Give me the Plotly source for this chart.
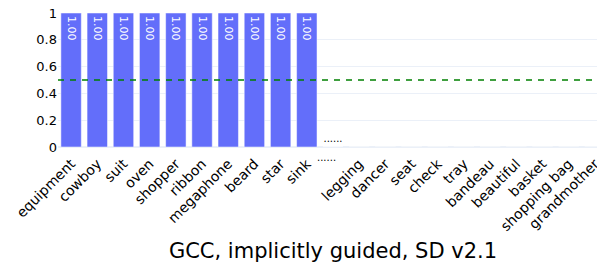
import plotly.graph_objects as go

top_words = ["equipment", "cowboy", "suit", "oven", "shopper", "ribbon",
             "megaphone", "beard", "star", "sink"]
top_values = [1.00, 1.00, 1.00, 1.00, 1.00, 1.00, 1.00, 1.00, 1.00, 1.00]
gap_label = "......"
gap_value = 0.0
bottom_words = ["legging", "dancer", "seat", "check", "tray", "bandeau",
                "beautiful", "basket", "shopping bag", "grandmother"]
bottom_values = [0.0, 0.0, 0.0, 0.0, 0.0, 0.0, 0.0, 0.0, 0.0, 0.0]
threshold = 0.5
x_title = "GCC, implicitly guided, SD v2.1"

categories = top_words + [gap_label] + bottom_words
values = top_values + [gap_value] + bottom_values
texts = [f"{v:.2f}" for v in top_values] + [""] + [""] * len(bottom_values)
tick_text = top_words + [""] + bottom_words

FONT = "DejaVu Sans"

fig = go.Figure()
fig.add_trace(go.Bar(
    x=categories, y=values, text=texts,
    textposition="inside", insidetextanchor="end", textangle=90,
    textfont=dict(family=FONT, size=11, color="white"),
    marker=dict(color="#636EFA", line=dict(color="white", width=0.5)),
    cliponaxis=False, showlegend=False,
))
fig.add_trace(go.Bar(
    x=[gap_label], y=[gap_value], text=[gap_label],
    textposition="outside", textangle=0,
    textfont=dict(family=FONT, size=10, color="black"),
    marker=dict(color="#636EFA", line=dict(color="white", width=0.5)),
    cliponaxis=False, showlegend=False,
))

# horizontal "......" in the tick-label row
fig.add_annotation(x=gap_label, y=0, xref="x", yref="y", text=gap_label,
                   showarrow=False, yanchor="top", yshift=-3, xshift=-7,
                   font=dict(family=FONT, size=10, color="black"))

fig.add_shape(type="line", xref="paper", yref="y", x0=0, x1=1,
              y0=threshold, y1=threshold,
              line=dict(color="green", width=1.5, dash="6px,6px"))

fig.update_layout(
    template="plotly_white",
    width=605, height=258,
    margin=dict(l=50, r=5, t=5, b=119),
    barmode="overlay", bargap=0.22,
    font=dict(family=FONT, color="black"),
    xaxis=dict(
        categoryorder="array", categoryarray=categories,
        tickmode="array", tickvals=categories, ticktext=tick_text,
        tickangle=-45, ticklabelstandoff=5,
        tickfont=dict(family=FONT, size=14, color="black"),
        title=dict(text=x_title, font=dict(family=FONT, size=21, color="black"), standoff=10),
        automargin=False,
    ),
    yaxis=dict(
        range=[0, 1], tickvals=[0, 0.2, 0.4, 0.6, 0.8, 1],
        tickfont=dict(family=FONT, size=13, color="black"),
        ticklabeloverflow="allow",
        automargin=False,
    ),
)

fig.write_html("out.html")
